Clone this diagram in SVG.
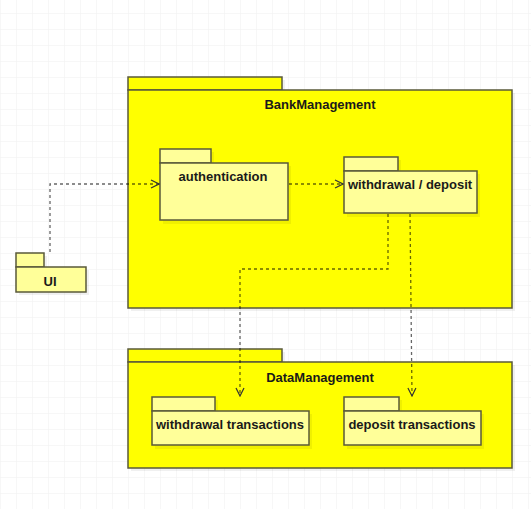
<svg xmlns="http://www.w3.org/2000/svg" width="531" height="509" viewBox="0 0 531 509">
  <style>
    .outer { fill: #ffff00; stroke: #5a5a3a; stroke-width: 1.5; }
    .inner { fill: #ffff99; stroke: #5a5a3a; stroke-width: 1.5; }
    .shadow { fill: #000; opacity: 0.06; }
    .lbl { font-family: "Liberation Sans", Arial, sans-serif; font-size: 13px; font-weight: bold; fill: #1a1a1a; text-anchor: middle; }
    .dep { fill: none; stroke: #000; stroke-opacity: 0.6; stroke-width: 1.3; stroke-dasharray: 3 3; }
  </style>
  <defs>
    <pattern id="grid" width="16" height="16" patternUnits="userSpaceOnUse" x="0" y="13">
      <path d="M 16 0 L 0 0 0 16" fill="none" stroke="#efefef" stroke-width="1"/>
    </pattern>
    <marker id="open" viewBox="0 0 10 10" refX="9" refY="5" markerWidth="10" markerHeight="10" markerUnits="userSpaceOnUse" orient="auto">
      <path d="M 1 1 L 9 5 L 1 9" fill="none" stroke="#333" stroke-width="1.2"/>
    </marker>
  </defs>

  <rect width="531" height="509" fill="#ffffff"/>
  <rect width="531" height="509" fill="url(#grid)"/>

  <!-- outer package: BankManagement -->
  <g id="bank-management">
    <rect class="shadow" x="131" y="80" width="154" height="13"/>
    <rect class="shadow" x="131" y="93" width="384" height="218"/>
    <rect class="outer" x="128" y="77" width="154" height="13"/>
    <rect class="outer" x="128" y="90" width="384" height="218"/>
    <text class="lbl" x="320" y="109">BankManagement</text>
  </g>

  <!-- outer package: DataManagement -->
  <g id="data-management">
    <rect class="shadow" x="131" y="352" width="154" height="13"/>
    <rect class="shadow" x="131" y="365" width="384" height="106"/>
    <rect class="outer" x="128" y="349" width="154" height="13"/>
    <rect class="outer" x="128" y="362" width="384" height="106"/>
    <text class="lbl" x="320" y="382">DataManagement</text>
  </g>

  <g id="ui">
    <rect class="shadow" x="19" y="256" width="28" height="14"/>
    <rect class="shadow" x="19" y="270" width="70" height="25"/>
    <rect class="inner" x="16" y="253" width="28" height="14"/>
    <rect class="inner" x="16" y="267" width="70" height="25"/>
    <text class="lbl" x="50" y="286">UI</text>
  </g>

  <g id="authentication">
    <rect class="shadow" x="163" y="152" width="51" height="14"/>
    <rect class="shadow" x="163" y="166" width="128" height="58"/>
    <rect class="inner" x="160" y="149" width="51" height="14"/>
    <rect class="inner" x="160" y="163" width="128" height="57"/>
    <text class="lbl" x="223" y="181">authentication</text>
  </g>

  <g id="withdrawal-deposit">
    <rect class="shadow" x="347" y="160" width="54" height="14"/>
    <rect class="shadow" x="347" y="174" width="133" height="43"/>
    <rect class="inner" x="344" y="157" width="54" height="14"/>
    <rect class="inner" x="344" y="171" width="133" height="42"/>
    <text class="lbl" x="410" y="189">withdrawal / deposit</text>
  </g>

  <g id="withdrawal-transactions">
    <rect class="shadow" x="155" y="400" width="63" height="14"/>
    <rect class="shadow" x="155" y="414" width="157" height="35"/>
    <rect class="inner" x="152" y="397" width="63" height="14"/>
    <rect class="inner" x="152" y="411" width="157" height="34"/>
    <text class="lbl" x="230" y="429">withdrawal transactions</text>
  </g>

  <g id="deposit-transactions">
    <rect class="shadow" x="347" y="400" width="55" height="14"/>
    <rect class="shadow" x="347" y="414" width="137" height="35"/>
    <rect class="inner" x="344" y="397" width="55" height="14"/>
    <rect class="inner" x="344" y="411" width="137" height="34"/>
    <text class="lbl" x="412" y="429">deposit transactions</text>
  </g>

  <!-- dependency connectors -->
  <g id="connectors">
    <path class="dep" d="M 50 252 L 50 184 L 159 184" marker-end="url(#open)"/>
    <path class="dep" d="M 289 184 L 343 184" marker-end="url(#open)"/>
    <path class="dep" d="M 388 214 L 388 269 L 240 269 L 240 396" marker-end="url(#open)"/>
    <path class="dep" d="M 410 214 L 412 396" marker-end="url(#open)"/>
  </g>
</svg>
